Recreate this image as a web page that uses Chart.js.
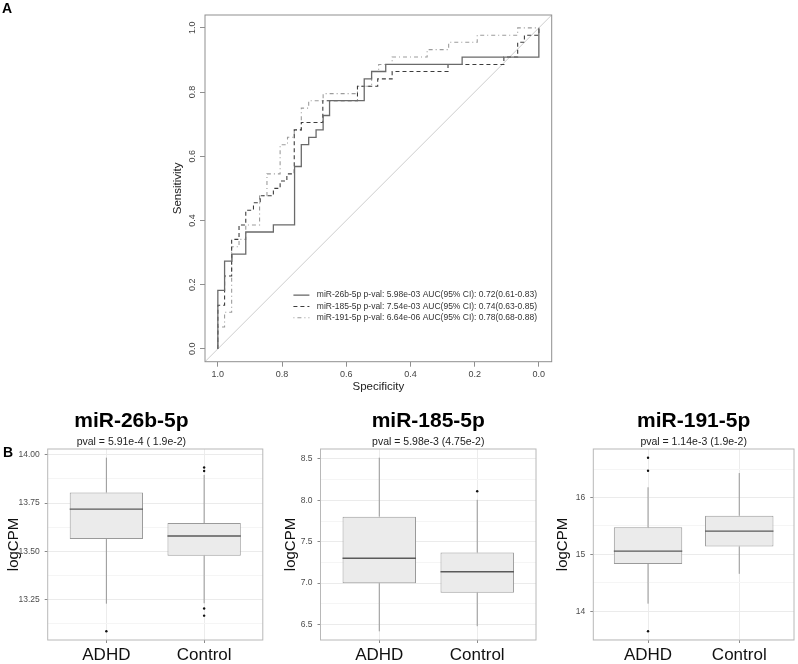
<!DOCTYPE html>
<html>
<head>
<meta charset="utf-8">
<script src="https://cdn.jsdelivr.net/npm/chart.js@4.4.1/dist/chart.umd.min.js"></script>
<style>
  html, body { margin: 0; padding: 0; background: #fff; }
  #wrap { position: relative; width: 798px; height: 664px; overflow: hidden; }
  canvas { position: absolute; }
  .tag { position: absolute; font: bold 14px/16px 'Liberation Sans', Arial, sans-serif; color: #000; }
</style>
</head>
<body>
<div id="wrap">
  <canvas id="roc" width="798" height="400" style="left:0; top:0;"></canvas>
  <canvas id="bp1" width="270" height="264" style="left:0; top:400px;"></canvas>
  <canvas id="bp2" width="270" height="264" style="left:270px; top:400px;"></canvas>
  <canvas id="bp3" width="258" height="264" style="left:540px; top:400px;"></canvas>
  <div class="tag" style="left:2px; top:0px;">A</div>
  <div class="tag" style="left:3px; top:444px;">B</div>
</div>
<script>
// --- panel A: ROC steps (specificity, sensitivity) ---
const spec26b = [1, 1, 0.979, 0.956, 0.913, 0.827, 0.761, 0.740, 0.717, 0.694, 0.672, 0.652, 0.544, 0.521, 0.477, 0.239, 0];
const sens26b = [0, 0.182, 0.273, 0.295, 0.364, 0.386, 0.568, 0.636, 0.659, 0.682, 0.727, 0.773, 0.841, 0.864, 0.886, 0.909, 1];

const spec185 = [1, 1, 0.979, 0.957, 0.934, 0.913, 0.889, 0.868, 0.827, 0.806, 0.785, 0.762, 0.740, 0.673, 0.565, 0.502, 0.457, 0.283, 0.109, 0.066, 0.045, 0];
const sens185 = [0, 0.136, 0.227, 0.341, 0.386, 0.432, 0.455, 0.477, 0.500, 0.523, 0.545, 0.682, 0.705, 0.773, 0.818, 0.841, 0.864, 0.886, 0.909, 0.955, 0.977, 1];

const spec191 = [1, 1, 0.979, 0.957, 0.934, 0.913, 0.870, 0.847, 0.806, 0.783, 0.762, 0.740, 0.717, 0.672, 0.565, 0.521, 0.499, 0.457, 0.348, 0.281, 0.192, 0.066, 0];
const sens191 = [0, 0.068, 0.114, 0.318, 0.341, 0.386, 0.477, 0.545, 0.636, 0.659, 0.682, 0.750, 0.773, 0.795, 0.818, 0.864, 0.886, 0.909, 0.932, 0.955, 0.977, 1, 1];

const rocLabels = [
  'miR-26b-5p p-val: 5.98e-03 AUC(95% CI): 0.72(0.61-0.83)',
  'miR-185-5p p-val: 7.54e-03 AUC(95% CI): 0.74(0.63-0.85)',
  'miR-191-5p p-val: 6.64e-06 AUC(95% CI): 0.78(0.68-0.88)'
];

// --- panel B: box plots, [whisker low, q1, median, q3, whisker high] ---
const groups = ['ADHD', 'Control'];

const mir26bADHD = [13.23, 13.564, 13.719, 13.805, 13.985];
const mir26bControl = [13.232, 13.478, 13.58, 13.647, 13.896];
const mir26bOutADHD = [13.087];
const mir26bOutControl = [13.934, 13.916, 13.205, 13.168];

const mir185ADHD = [6.418, 7.0, 7.30, 7.803, 8.515];
const mir185Control = [6.48, 6.885, 7.138, 7.369, 8.006];
const mir185OutADHD = [];
const mir185OutControl = [8.11];

const mir191ADHD = [14.136, 14.834, 15.058, 15.476, 16.18];
const mir191Control = [14.66, 15.14, 15.41, 15.68, 16.43];
const mir191OutADHD = [16.70, 16.47, 13.65];
const mir191OutControl = [];

const SANS = "'Liberation Sans', Arial, sans-serif";
const NARROW = "'Liberation Sans Narrow', 'Arial Narrow', 'Liberation Sans', sans-serif";
Chart.defaults.font.family = SANS;

const frame = {
  id: 'frame',
  afterDatasetsDraw(chart, args, opts) {
    const { ctx, chartArea: a } = chart;
    ctx.save();
    ctx.strokeStyle = opts.color || '#999';
    ctx.lineWidth = 1;
    ctx.strokeRect(a.left, a.top, a.right - a.left, a.bottom - a.top);
    ctx.restore();
  }
};

// legend drawn inside the ROC plot, lower right
const rocLegend = {
  id: 'rocLegend',
  afterDatasetsDraw(chart) {
    const { ctx, chartArea: a } = chart;
    const w = a.right - a.left, h = a.bottom - a.top;
    const x0 = a.left + 0.255 * w, y0 = a.top + 0.808 * h;
    chart.data.datasets.slice(0, 3).forEach((ds, i) => {
      const y = y0 + i * 11.3;
      ctx.save();
      ctx.strokeStyle = ds.borderColor;
      ctx.lineWidth = ds.borderWidth;
      ctx.setLineDash(ds.borderDash || []);
      ctx.beginPath(); ctx.moveTo(x0, y); ctx.lineTo(x0 + 16, y); ctx.stroke();
      ctx.setLineDash([]);
      ctx.fillStyle = '#333';
      ctx.font = '8.5px ' + NARROW;
      ctx.textBaseline = 'middle';
      ctx.fillText(ds.label, x0 + 23.4, y);
      ctx.restore();
    });
  }
};

const toPts = (xs, ys) => xs.map((x, i) => ({ x: x, y: ys[i] }));

new Chart(document.getElementById('roc'), {
  type: 'line',
  data: {
    datasets: [
      { label: rocLabels[0], data: toPts(spec26b, sens26b), borderColor: '#6a6a6a', borderWidth: 1.3, stepped: 'before' },
      { label: rocLabels[1], data: toPts(spec185, sens185), borderColor: '#3c3c3c', borderWidth: 1.1, borderDash: [4, 3], stepped: 'before' },
      { label: rocLabels[2], data: toPts(spec191, sens191), borderColor: '#9c9c9c', borderWidth: 1.1, borderDash: [1, 3, 4, 3], stepped: 'before' },
      { label: 'chance', data: [{ x: 1.04, y: -0.04 }, { x: -0.04, y: 1.04 }], borderColor: '#cdcdcd', borderWidth: 1 }
    ]
  },
  options: {
    responsive: false,
    animation: false,
    layout: { padding: { left: 165, right: 246.3, top: 15, bottom: 3.3 } },
    elements: { point: { radius: 0 }, line: { tension: 0, fill: false } },
    plugins: { legend: { display: false }, tooltip: { enabled: false }, frame: { color: '#8f8f8f' } },
    scales: {
      x: {
        type: 'linear', reverse: true, min: -0.04, max: 1.04,
        afterFit: s => { s.height = 35; },
        border: { display: false },
        grid: { display: true, drawOnChartArea: false, drawTicks: true, tickLength: 5, tickColor: '#8f8f8f' },
        ticks: { stepSize: 0.2, includeBounds: false, autoSkip: false, maxRotation: 0, padding: 2, color: '#444', font: { size: 9 }, callback: v => v.toFixed(1) },
        title: { display: true, text: 'Specificity', color: '#222', font: { size: 11.5 }, padding: { top: 0, bottom: 3 } }
      },
      y: {
        type: 'linear', min: -0.04, max: 1.04,
        afterFit: s => { s.width = 40; },
        border: { display: false },
        grid: { display: true, drawOnChartArea: false, drawTicks: true, tickLength: 5, tickColor: '#8f8f8f' },
        ticks: { stepSize: 0.2, includeBounds: false, autoSkip: false, minRotation: 90, maxRotation: 90, crossAlign: 'center', padding: 1, color: '#444', font: { size: 9 }, callback: v => v.toFixed(1) },
        title: { display: true, text: 'Sensitivity', color: '#222', font: { size: 11.5 }, padding: { top: 5.6, bottom: 0 } }
      }
    }
  },
  plugins: [frame, rocLegend]
});

function boxplot(id, title, pval, stats, outs, lay) {
  const outPts = [];
  outs.forEach((vals, i) => vals.forEach(v => outPts.push({ x: i + 1, y: v })));
  const all = stats.flat().concat(outPts.map(p => p.y));
  const lo = Math.min(...all), hi = Math.max(...all), pad = (hi - lo) * 0.05;
  const isMajor = v => Math.abs(v / lay.step - Math.round(v / lay.step)) < 1e-6;

  // whiskers and medians, drawn right after the boxes
  const parts = {
    id: 'boxParts',
    afterDatasetDraw(chart, args) {
      if (args.index !== 0) return;
      const { ctx } = chart;
      const ys = chart.scales.y;
      const bars = chart.getDatasetMeta(0).data;
      ctx.save();
      stats.forEach((s, i) => {
        const b = bars[i];
        ctx.strokeStyle = '#969696';
        ctx.lineWidth = 1;
        ctx.beginPath();
        ctx.moveTo(b.x, ys.getPixelForValue(s[0])); ctx.lineTo(b.x, ys.getPixelForValue(s[1]));
        ctx.moveTo(b.x, ys.getPixelForValue(s[3])); ctx.lineTo(b.x, ys.getPixelForValue(s[4]));
        ctx.stroke();
        ctx.strokeStyle = '#5a5a5a';
        ctx.lineWidth = 1.4;
        ctx.beginPath();
        ctx.moveTo(b.x - b.width / 2, ys.getPixelForValue(s[2]));
        ctx.lineTo(b.x + b.width / 2, ys.getPixelForValue(s[2]));
        ctx.stroke();
      });
      ctx.restore();
    }
  };

  return new Chart(document.getElementById(id), {
    type: 'bar',
    data: {
      datasets: [
        { type: 'bar', data: stats.map((s, i) => ({ x: i + 1, y: [s[1], s[3]] })), backgroundColor: '#ebebeb', borderColor: '#9a9a9a', borderWidth: 1, borderSkipped: false, barPercentage: 0.75, categoryPercentage: 1 },
        { type: 'scatter', data: outPts, pointRadius: 1.2, pointBackgroundColor: '#111', pointBorderWidth: 0 }
      ]
    },
    options: {
      responsive: false,
      animation: false,
      layout: { padding: { left: 0, right: lay.padR, top: 0, bottom: 0 } },
      plugins: {
        legend: { display: false }, tooltip: { enabled: false },
        frame: { color: '#b8b8b8' },
        title: { display: true, text: title, fullSize: lay.fullTitle, color: '#000', font: { size: 21, weight: 'bold' }, padding: { top: 8.4, bottom: 0 } },
        subtitle: { display: true, text: pval, fullSize: lay.fullTitle, color: '#222', font: { family: NARROW, size: 10.5 }, padding: { top: 1.9, bottom: 0.9 } }
      },
      scales: {
        x: {
          type: 'linear', min: 0.4, max: 2.6, offset: false,
          afterFit: s => { s.height = 24; },
          border: { display: false },
          grid: { offset: false, color: '#ececec', tickLength: 3, tickColor: '#8a8a8a' },
          ticks: { stepSize: 1, includeBounds: false, autoSkip: false, maxRotation: 0, padding: 2.6, color: '#111', font: { family: NARROW, size: 17 }, callback: v => groups[v - 1] }
        },
        y: {
          min: lo - pad, max: hi + pad,
          afterFit: s => { s.width = lay.axisW; },
          border: { display: false },
          grid: {
            color: c => isMajor(c.tick.value) ? '#ebebeb' : '#f5f5f5',
            tickLength: 3,
            tickColor: c => isMajor(c.tick.value) ? '#8a8a8a' : 'rgba(0,0,0,0)'
          },
          ticks: { stepSize: lay.step / 2, includeBounds: false, autoSkip: false, padding: 5, color: '#4d4d4d', font: { family: NARROW, size: 8.5 }, callback: v => isMajor(v) ? v.toFixed(lay.dec) : '' },
          title: { display: true, text: 'logCPM', color: '#111', font: { size: 15 }, padding: { top: lay.titlePad, bottom: 0 } }
        }
      }
    },
    plugins: [frame, parts]
  });
}

boxplot('bp1', 'miR-26b-5p', 'pval = 5.91e-4 ( 1.9e-2)',
  [mir26bADHD, mir26bControl], [mir26bOutADHD, mir26bOutControl],
  { axisW: 47.7, padR: 7.2, step: 0.25, dec: 2, titlePad: 4.7, fullTitle: true });
boxplot('bp2', 'miR-185-5p', 'pval = 5.98e-3 (4.75e-2)',
  [mir185ADHD, mir185Control], [mir185OutADHD, mir185OutControl],
  { axisW: 50.5, padR: 3.9, step: 0.5, dec: 1, titlePad: 11.8, fullTitle: false });
boxplot('bp3', 'miR-191-5p', 'pval = 1.14e-3 (1.9e-2)',
  [mir191ADHD, mir191Control], [mir191OutADHD, mir191OutControl],
  { axisW: 53.3, padR: 1.5, step: 1, dec: 0, titlePad: 13.5, fullTitle: false });
</script>
</body>
</html>
